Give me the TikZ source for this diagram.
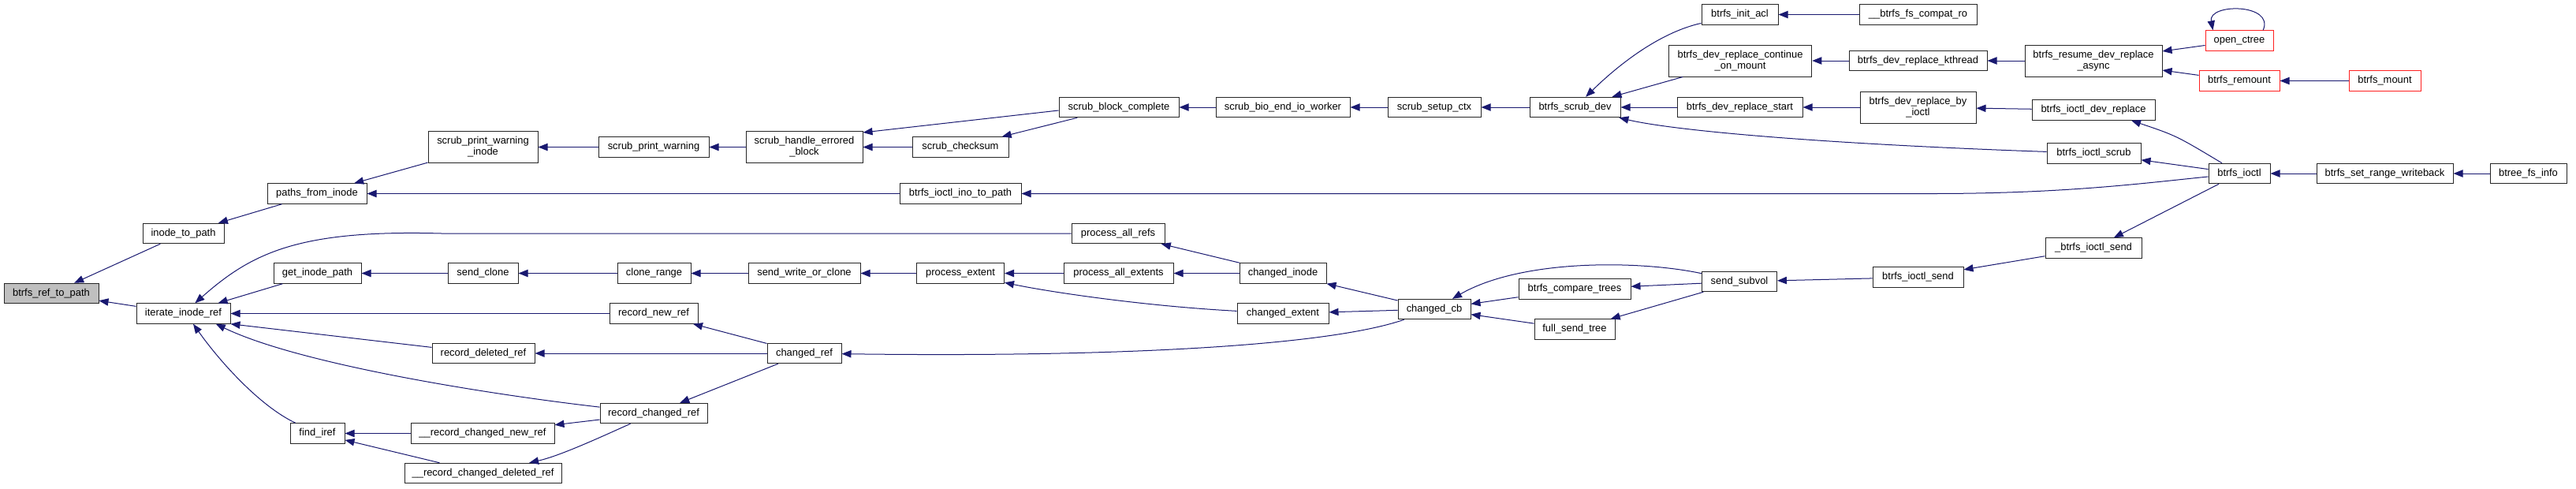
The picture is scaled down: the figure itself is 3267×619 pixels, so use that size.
\documentclass[tikz,border=0pt]{standalone}
\usepackage{fontspec}
\setmainfont{Liberation Sans}
\usepackage{tikz}
\usetikzlibrary{arrows.meta,positioning}
\definecolor{edgeblue}{HTML}{191970}
\definecolor{rootgray}{HTML}{BFBFBF}
\definecolor{nodered}{HTML}{FF2020}
\begin{document}
\begin{tikzpicture}[
    x=0.75pt, y=-0.75pt,
    fn/.style={draw=black!85, fill=white, line width=0.75pt, inner sep=0pt, minimum height=19.1pt, align=center, font={\fontsize{9.7}{10.4}\selectfont}},
    two/.style={minimum height=30pt},
    wd/.style={minimum width=#1*0.75pt},
    call/.style={{Triangle[length=9pt, width=7pt]}-, draw=edgeblue, line width=0.75pt}
]
    \useasboundingbox (0,0) rectangle (3267,619);

    \node[fn, fill=rootgray, wd=120] (reftopath) at (65,372) {btrfs\_ref\_to\_path};
    \node[fn, wd=103] (inodetopath) at (232.5,296) {inode\_to\_path};
    \node[fn, wd=119] (iterateinoderef) at (232.5,397.5) {iterate\_inode\_ref};
    \node[fn, wd=126] (pathsfrominode) at (402,245.5) {paths\_from\_inode};
    \node[fn, wd=111] (getinodepath) at (402.5,346.5) {get\_inode\_path};
    \node[fn, wd=69] (findiref) at (402.5,549.5) {find\_iref};
    \node[fn, two, wd=139] (printwarninginode) at (612.5,186.5) {scrub\_print\_warning\\\_inode};
    \node[fn, wd=89] (sendclone) at (612.5,346.5) {send\_clone};
    \node[fn, wd=130] (recdeletedref) at (613,448) {record\_deleted\_ref};
    \node[fn, wd=182] (recchgnewref) at (612,549.5) {\_\_record\_changed\_new\_ref};
    \node[fn, wd=199] (recchgdelref) at (612.5,600) {\_\_record\_changed\_deleted\_ref};
    \node[fn, wd=140] (printwarning) at (829,186.5) {scrub\_print\_warning};
    \node[fn, wd=93] (clonerange) at (829.5,346.5) {clone\_range};
    \node[fn, wd=112] (recnewref) at (829,397.5) {record\_new\_ref};
    \node[fn, wd=136] (recchangedref) at (829,524) {record\_changed\_ref};
    \node[fn, two, wd=148] (handleerrored) at (1020,186.5) {scrub\_handle\_errored\\\_block};
    \node[fn, wd=142] (writeorclone) at (1020,346.5) {send\_write\_or\_clone};
    \node[fn, wd=94] (changedref) at (1020,448) {changed\_ref};
    \node[fn, wd=122] (checksum) at (1218,186.5) {scrub\_checksum};
    \node[fn, wd=154] (ioctlinotopath) at (1218,245.5) {btrfs\_ioctl\_ino\_to\_path};
    \node[fn, wd=111] (procextent) at (1218,346.5) {process\_extent};
    \node[fn, wd=152] (blockcomplete) at (1419,136) {scrub\_block\_complete};
    \node[fn, wd=118] (allrefs) at (1418,296) {process\_all\_refs};
    \node[fn, wd=139] (allextents) at (1418.5,346.5) {process\_all\_extents};
    \node[fn, wd=170] (bioendio) at (1627,136) {scrub\_bio\_end\_io\_worker};
    \node[fn, wd=110] (changedinode) at (1627,346.5) {changed\_inode};
    \node[fn, wd=116] (changedextent) at (1627,397.5) {changed\_extent};
    \node[fn, wd=118] (setupctx) at (1819,136) {scrub\_setup\_ctx};
    \node[fn, wd=92] (changedcb) at (1819,392) {changed\_cb};
    \node[fn, wd=115] (scrubdev) at (1997.5,136) {btrfs\_scrub\_dev};
    \node[fn, wd=142] (comparetrees) at (1997,366.5) {btrfs\_compare\_trees};
    \node[fn, wd=102] (fullsendtree) at (1997,417.5) {full\_send\_tree};
    \node[fn, wd=97] (initacl) at (2206.5,18.5) {btrfs\_init\_acl};
    \node[fn, two, wd=181.5] (continueonmount) at (2207,77) {btrfs\_dev\_replace\_continue\\\_on\_mount};
    \node[fn, wd=159] (replacestart) at (2206.5,136) {btrfs\_dev\_replace\_start};
    \node[fn, wd=95] (sendsubvol) at (2206,357) {send\_subvol};
    \node[fn, wd=149] (compatro) at (2432.5,18.5) {\_\_btrfs\_fs\_compat\_ro};
    \node[fn, wd=175] (replacekthread) at (2432.5,77) {btrfs\_dev\_replace\_kthread};
    \node[fn, two, wd=147] (replacebyioctl) at (2432.5,136) {btrfs\_dev\_replace\_by\\\_ioctl};
    \node[fn, wd=115] (ioctlsend) at (2432.5,351.5) {btrfs\_ioctl\_send};
    \node[fn, two, wd=174] (resumeasync) at (2655,77) {btrfs\_resume\_dev\_replace\\\_async};
    \node[fn, wd=156] (ioctldevreplace) at (2655,139.5) {btrfs\_ioctl\_dev\_replace};
    \node[fn, wd=119] (ioctlscrub) at (2655.5,194.5) {btrfs\_ioctl\_scrub};
    \node[fn, wd=122] (ioctlsendint) at (2655,314.5) {\_btrfs\_ioctl\_send};
    \node[fn, draw=nodered, wd=86] (openctree) at (2840,51.5) {open\_ctree};
    \node[fn, draw=nodered, wd=102] (remount) at (2840,102.5) {btrfs\_remount};
    \node[fn, wd=78] (ioctl) at (2840,220) {btrfs\_ioctl};
    \node[fn, draw=nodered, wd=91] (mount) at (3024.5,102.5) {btrfs\_mount};
    \node[fn, wd=173] (setrange) at (3024.5,220) {btrfs\_set\_range\_writeback};
    \node[fn, wd=97] (btreefsinfo) at (3206.5,220) {btree\_fs\_info};

    \draw[call] (reftopath) -- (inodetopath);
    \draw[call] (reftopath) -- (iterateinoderef);
    \draw[call] (inodetopath) -- (pathsfrominode);
    \draw[call] (pathsfrominode) -- (printwarninginode);
    \draw[call] (pathsfrominode) -- (ioctlinotopath);
    \draw[call] (printwarninginode) -- (printwarning);
    \draw[call] (printwarning) -- (handleerrored);
    \draw[call] ([yshift=-1.5pt]handleerrored.north east) -- ([yshift=-3pt]blockcomplete.west);
    \draw[call] (handleerrored) -- (checksum);
    \draw[call] (checksum) -- (blockcomplete);
    \draw[call] (blockcomplete) -- (bioendio);
    \draw[call] (bioendio) -- (setupctx);
    \draw[call] (setupctx) -- (scrubdev);
    \draw[call] (scrubdev) .. controls (2060,75) and (2110,40) .. (initacl);
    \draw[call] (scrubdev) -- (continueonmount);
    \draw[call] (scrubdev) -- (replacestart);
    \draw[call] (scrubdev) .. controls (2120,165) and (2300,182) .. (ioctlscrub);
    \draw[call] (initacl) -- (compatro);
    \draw[call] (continueonmount) -- (replacekthread);
    \draw[call] (replacekthread) -- (resumeasync);
    \draw[call] (resumeasync) -- (openctree);
    \draw[call] (resumeasync) -- (remount);
    \draw[call] ([xshift=7.5pt]openctree.north west) .. controls (2800,4) and (2885,4) .. ([xshift=-10pt]openctree.north east);
    \draw[call] (remount) -- (mount);
    \draw[call] (replacestart) -- (replacebyioctl);
    \draw[call] (replacebyioctl) -- (ioctldevreplace);
    \draw[call] ([xshift=36pt]ioctldevreplace.south) .. controls (2760,172) .. ([xshift=-16.5pt]ioctl.north);
    \draw[call] (ioctlscrub) -- (ioctl);
    \draw[call] (ioctlinotopath) -- (2450,245.5) .. controls (2620,245.5) and (2720,232) .. ([yshift=-3pt]ioctl.west);
    \draw[call] (ioctlsendint) -- (ioctl);
    \draw[call] (ioctl) -- (setrange);
    \draw[call] (setrange) -- (btreefsinfo);
    \draw[call] (ioctlsend) -- (ioctlsendint);
    \draw[call] (sendsubvol) -- (ioctlsend);
    \draw[call] (changedcb) .. controls (1930,328) and (2080,330) .. (sendsubvol);
    \draw[call] (comparetrees) -- (sendsubvol);
    \draw[call] (fullsendtree) -- (sendsubvol);
    \draw[call] (changedcb) -- (comparetrees);
    \draw[call] (changedcb) -- (fullsendtree);
    \draw[call] (changedinode) -- (changedcb);
    \draw[call] (changedextent) -- (changedcb);
    \draw[call] (changedref) .. controls (1400,453) and (1680,440) .. (changedcb);
    \draw[call] (allrefs) -- (changedinode);
    \draw[call] (allextents) -- (changedinode);
    \draw[call] (procextent) -- (allextents);
    \draw[call] (procextent) .. controls (1330,370) and (1450,388) .. (changedextent);
    \draw[call] (writeorclone) -- (procextent);
    \draw[call] (clonerange) -- (writeorclone);
    \draw[call] (sendclone) -- (clonerange);
    \draw[call] (getinodepath) -- (sendclone);
    \draw[call] (iterateinoderef) -- (getinodepath);
    \draw[call] (iterateinoderef) .. controls (320,320) and (380,291) .. (560,296) -- (allrefs);
    \draw[call] (iterateinoderef) -- (recnewref);
    \draw[call] (iterateinoderef.south east) -- (recdeletedref);
    \draw[call] ([xshift=-14pt]iterateinoderef.south east) .. controls (380,462) and (620,500) .. (recchangedref);
    \draw[call] ([xshift=9.4pt]iterateinoderef.south) .. controls (280,460) and (330,515) .. (findiref);
    \draw[call] (findiref) -- (recchgnewref);
    \draw[call] (findiref) -- (recchgdelref);
    \draw[call] (recchgnewref) -- (recchangedref);
    \draw[call] (recchgdelref) .. controls (710,578) and (760,555) .. (recchangedref);
    \draw[call] (recnewref) -- (changedref);
    \draw[call] (recdeletedref) -- (changedref);
    \draw[call] (recchangedref) -- (changedref);
\end{tikzpicture}
\end{document}
